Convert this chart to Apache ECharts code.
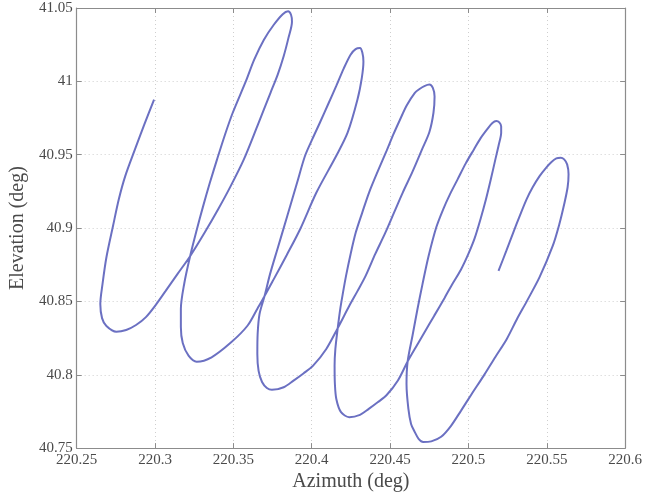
<!DOCTYPE html>
<html>
<head>
<meta charset="utf-8">
<script src="https://cdn.jsdelivr.net/npm/echarts@6/dist/echarts.min.js"></script>
<style>
html,body{margin:0;padding:0;background:#fff;}
#chart{width:645px;height:497px;}
</style>
</head>
<body>
<div id="chart"></div>
<script>
// Azimuth (deg) values
var azimuth = [
220.2994, 220.2932, 220.2872, 220.2810, 220.2769, 220.2732, 220.2690, 220.2665, 220.2651, 220.2662, 220.2690, 220.2753,
220.2816, 220.2879, 220.2942, 220.3004, 220.3067, 220.3143, 220.3224, 220.3318, 220.3403, 220.3482, 220.3567, 220.3653, 220.3737, 220.3783, 220.3821, 220.3852, 220.3874, 220.3868, 220.3849,
220.3815, 220.3758, 220.3695, 220.3633, 220.3580, 220.3496, 220.3447, 220.3396, 220.3349, 220.3305, 220.3264, 220.3224, 220.3187, 220.3165, 220.3165, 220.3177, 220.3214, 220.3266,
220.3361, 220.3486, 220.3590, 220.3655, 220.3699, 220.3758, 220.3840, 220.3926, 220.4030, 220.4156, 220.4229, 220.4292, 220.4320, 220.4330, 220.4323, 220.4308,
220.4280, 220.4248, 220.4204, 220.4156, 220.4104, 220.4052, 220.4003, 220.3957, 220.3907, 220.3844, 220.3781, 220.3734, 220.3699, 220.3667, 220.3655, 220.3653, 220.3661, 220.3683, 220.3714, 220.3746,
220.3821, 220.3884, 220.3947, 220.4009, 220.4093, 220.4166, 220.4240, 220.4292, 220.4344, 220.4405, 220.4470, 220.4526, 220.4581, 220.4644, 220.4704, 220.4751, 220.4777, 220.4784, 220.4773, 220.4751,
220.4719, 220.4688, 220.4658, 220.4606, 220.4564, 220.4521, 220.4479, 220.4424, 220.4366, 220.4323, 220.4281, 220.4248, 220.4219, 220.4198, 220.4182, 220.4166, 220.4151, 220.4146, 220.4148, 220.4157, 220.4187, 220.4240,
220.4308, 220.4364, 220.4421, 220.4477, 220.4550, 220.4612, 220.4669, 220.4721, 220.4782, 220.4847, 220.4895, 220.4952, 220.4999, 220.5040, 220.5077, 220.5112, 220.5143, 220.5172, 220.5194, 220.5209, 220.5209, 220.5197, 220.5178,
220.5153, 220.5119, 220.5077, 220.5035, 220.4983, 220.4931, 220.4882, 220.4839, 220.4795, 220.4744, 220.4707, 220.4675, 220.4644, 220.4612, 220.4605, 220.4617, 220.4634, 220.4658, 220.4682, 220.4711,
220.4763, 220.4826, 220.4889, 220.4952, 220.5021, 220.5098, 220.5172, 220.5245, 220.5310, 220.5373, 220.5454, 220.5538, 220.5580, 220.5611, 220.5633, 220.5639, 220.5630, 220.5611, 220.5589,
220.5561, 220.5530, 220.5498, 220.5454, 220.5410, 220.5371, 220.5329, 220.5286, 220.5241, 220.5192
];
// Elevation (deg) values, same order
var elevation = [
40.9876, 40.9706, 40.9536, 40.9354, 40.9196, 40.9014, 40.8801, 40.8618, 40.8482, 40.8386, 40.8332, 40.8293,
40.8305, 40.8339, 40.8393, 40.8475, 40.8570, 40.8686, 40.8808, 40.8971, 40.9128, 40.9284, 40.9468, 40.9695, 40.9922, 41.0046, 41.0171, 41.0298, 41.0407, 41.0454, 41.0478,
41.0458, 41.0386, 41.0284, 41.0148, 41.0001, 40.9786, 40.9638, 40.9468, 40.9305, 40.9141, 40.8978, 40.8808, 40.8624, 40.8448, 40.8325, 40.8216, 40.8130, 40.8089,
40.8119, 40.8221, 40.8334, 40.8454, 40.8536, 40.8652, 40.8815, 40.8992, 40.9242, 40.9491, 40.9650, 40.9876, 41.0026, 41.0135, 41.0196, 41.0227,
41.0220, 41.0182, 41.0087, 40.9967, 40.9842, 40.9718, 40.9604, 40.9491, 40.9310, 40.9082, 40.8856, 40.8686, 40.8536, 40.8414, 40.8278, 40.8142, 40.8026, 40.7951, 40.7910, 40.7897,
40.7915, 40.7960, 40.8009, 40.8062, 40.8176, 40.8318, 40.8470, 40.8570, 40.8674, 40.8822, 40.8969, 40.9107, 40.9242, 40.9386, 40.9536, 40.9655, 40.9786, 40.9897, 40.9955, 40.9978,
40.9968, 40.9948, 40.9922, 40.9835, 40.9740, 40.9638, 40.9529, 40.9393, 40.9242, 40.9107, 40.8969, 40.8822, 40.8674, 40.8550, 40.8448, 40.8318, 40.8176, 40.8062, 40.7937, 40.7835, 40.7745, 40.7711,
40.7727, 40.7767, 40.7812, 40.7860, 40.7961, 40.8090, 40.8196, 40.8291, 40.8403, 40.8522, 40.8614, 40.8716, 40.8822, 40.8931, 40.9060, 40.9196, 40.9332, 40.9468, 40.9570, 40.9650, 40.9692, 40.9720, 40.9729,
40.9716, 40.9672, 40.9611, 40.9536, 40.9441, 40.9332, 40.9230, 40.9128, 40.9005, 40.8801, 40.8618, 40.8448, 40.8271, 40.8090, 40.7937, 40.7767, 40.7665, 40.7609, 40.7563, 40.7541,
40.7546, 40.7577, 40.7652, 40.7754, 40.7869, 40.7994, 40.8121, 40.8244, 40.8380, 40.8502, 40.8665, 40.8878, 40.9026, 40.9162, 40.9278, 40.9366, 40.9434, 40.9468, 40.9480,
40.9475, 40.9451, 40.9414, 40.9354, 40.9278, 40.9196, 40.9087, 40.8969, 40.8842, 40.8708
];
var xTickMin = 220.25, xTickMax = 220.6, xTickStep = 0.05;
var yTickMin = 40.75, yTickMax = 41.05, yTickStep = 0.05;
var xTitle = 'Azimuth (deg)';
var yTitle = 'Elevation (deg)';

var points = azimuth.map(function (a, i) { return [a, elevation[i]]; });
function fmt(v) { return String(parseFloat(v.toFixed(2))); }

var font = '"Liberation Serif", "DejaVu Serif", serif';
var axisGray = '#8c8c8c';
var textGray = '#4a4a4a';

function xAx(pos, showLabels) {
  return {
    type: 'value', position: pos, min: xTickMin, max: xTickMax, interval: xTickStep,
    name: showLabels ? xTitle : '', nameLocation: 'middle', nameGap: 19,
    nameTextStyle: { fontFamily: font, fontSize: 20, color: textGray },
    axisLine: { show: true, onZero: false, lineStyle: { color: axisGray, width: 1.2 } },
    axisTick: { show: true, inside: true, length: 5, lineStyle: { color: axisGray } },
    axisLabel: { show: showLabels, formatter: fmt, margin: 4, fontFamily: font, fontSize: 15, color: textGray },
    splitLine: { show: showLabels, lineStyle: { color: '#cfcfcf', type: [1, 3], width: 1 } }
  };
}
function yAx(pos, showLabels) {
  return {
    type: 'value', position: pos, min: yTickMin, max: yTickMax, interval: yTickStep,
    name: showLabels ? yTitle : '', nameLocation: 'middle', nameGap: 42, nameRotate: 90,
    nameTextStyle: { fontFamily: font, fontSize: 20, color: textGray },
    axisLine: { show: true, onZero: false, lineStyle: { color: axisGray, width: 1.2 } },
    axisTick: { show: true, inside: true, length: 5, lineStyle: { color: axisGray } },
    axisLabel: { show: showLabels, formatter: fmt, margin: 4, fontFamily: font, fontSize: 15, color: textGray },
    splitLine: { show: showLabels, lineStyle: { color: '#cfcfcf', type: [1, 3], width: 1 } }
  };
}

var chart = echarts.init(document.getElementById('chart'), null, { renderer: 'canvas' });
chart.setOption({
  backgroundColor: '#ffffff',
  animation: false,
  grid: { left: 70, right: 18, top: 8, bottom: 47, containLabel: false },
  xAxis: [xAx('bottom', true), xAx('top', false)],
  yAxis: [yAx('left', true), yAx('right', false)],
  series: [{
    type: 'line', data: points, xAxisIndex: 0, yAxisIndex: 0,
    showSymbol: false, smooth: 0.3,
    lineStyle: { color: '#6b70c2', width: 2 }
  }]
});
</script>
</body>
</html>
